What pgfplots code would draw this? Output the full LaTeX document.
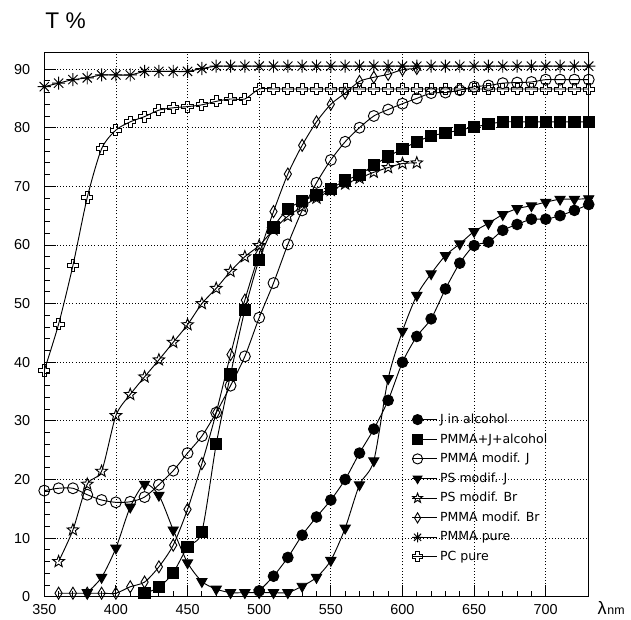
\documentclass[border=0pt]{standalone}
\usepackage{pgfplots}
\pgfplotsset{compat=1.18}
\usepackage{fontspec}
\setmainfont{Liberation Sans}
\newfontfamily\legfont{DejaVu Sans}
\usetikzlibrary{plotmarks}

\pgfdeclareplotmark{ostar}{%
  \pgfpathmoveto{\pgfqpointpolar{90}{\pgfplotmarksize}}%
  \pgfpathlineto{\pgfqpointpolar{126}{0.42\pgfplotmarksize}}%
  \pgfpathlineto{\pgfqpointpolar{162}{\pgfplotmarksize}}%
  \pgfpathlineto{\pgfqpointpolar{198}{0.42\pgfplotmarksize}}%
  \pgfpathlineto{\pgfqpointpolar{234}{\pgfplotmarksize}}%
  \pgfpathlineto{\pgfqpointpolar{270}{0.42\pgfplotmarksize}}%
  \pgfpathlineto{\pgfqpointpolar{306}{\pgfplotmarksize}}%
  \pgfpathlineto{\pgfqpointpolar{342}{0.42\pgfplotmarksize}}%
  \pgfpathlineto{\pgfqpointpolar{18}{\pgfplotmarksize}}%
  \pgfpathlineto{\pgfqpointpolar{54}{0.42\pgfplotmarksize}}%
  \pgfpathclose\pgfusepathqstroke}

\pgfdeclareplotmark{oplus}{%
  \pgfpathmoveto{\pgfqpoint{0.35\pgfplotmarksize}{\pgfplotmarksize}}%
  \pgfpathlineto{\pgfqpoint{0.35\pgfplotmarksize}{0.35\pgfplotmarksize}}%
  \pgfpathlineto{\pgfqpoint{\pgfplotmarksize}{0.35\pgfplotmarksize}}%
  \pgfpathlineto{\pgfqpoint{\pgfplotmarksize}{-0.35\pgfplotmarksize}}%
  \pgfpathlineto{\pgfqpoint{0.35\pgfplotmarksize}{-0.35\pgfplotmarksize}}%
  \pgfpathlineto{\pgfqpoint{0.35\pgfplotmarksize}{-\pgfplotmarksize}}%
  \pgfpathlineto{\pgfqpoint{-0.35\pgfplotmarksize}{-\pgfplotmarksize}}%
  \pgfpathlineto{\pgfqpoint{-0.35\pgfplotmarksize}{-0.35\pgfplotmarksize}}%
  \pgfpathlineto{\pgfqpoint{-\pgfplotmarksize}{-0.35\pgfplotmarksize}}%
  \pgfpathlineto{\pgfqpoint{-\pgfplotmarksize}{0.35\pgfplotmarksize}}%
  \pgfpathlineto{\pgfqpoint{-0.35\pgfplotmarksize}{0.35\pgfplotmarksize}}%
  \pgfpathlineto{\pgfqpoint{-0.35\pgfplotmarksize}{\pgfplotmarksize}}%
  \pgfpathclose\pgfusepathqstroke}

\pgfdeclareplotmark{ast8}{%
  \pgfpathmoveto{\pgfqpoint{-\pgfplotmarksize}{0pt}}\pgfpathlineto{\pgfqpoint{\pgfplotmarksize}{0pt}}%
  \pgfpathmoveto{\pgfqpoint{0pt}{-\pgfplotmarksize}}\pgfpathlineto{\pgfqpoint{0pt}{\pgfplotmarksize}}%
  \pgfpathmoveto{\pgfqpoint{-0.707\pgfplotmarksize}{-0.707\pgfplotmarksize}}\pgfpathlineto{\pgfqpoint{0.707\pgfplotmarksize}{0.707\pgfplotmarksize}}%
  \pgfpathmoveto{\pgfqpoint{-0.707\pgfplotmarksize}{0.707\pgfplotmarksize}}\pgfpathlineto{\pgfqpoint{0.707\pgfplotmarksize}{-0.707\pgfplotmarksize}}%
  \pgfusepathqstroke}

\begin{document}
\begin{tikzpicture}
\useasboundingbox (-33.2pt,-16.7pt) rectangle (440.0pt,447.5pt);
\begin{axis}[
  at={(0,0)}, anchor=south west,
  scale only axis, width=408.3pt, height=408pt,
  xmin=350, xmax=730, ymin=0, ymax=92.8,
  xtick={350,400,...,700}, minor x tick num=4,
  ytick={0,10,...,90}, minor y tick num=4,
  tick align=inside, tick pos=left,
  major tick length=9pt, minor tick length=4pt,
  tick style={black, line width=0.7pt},
  axis line style={line width=0.75pt},
  grid=major,
  major grid style={black, line width=0.6pt, dash pattern=on 0.75pt off 1.6pt},
  /pgf/number format/assume math mode=true,
  ticklabel style={font=\fontsize{10.8}{12}\selectfont},
  yticklabel style={xshift=-7pt},
  xticklabel style={yshift=-2pt},
  every axis y label/.style={at={(axis description cs:-0.0066,1.0436)}, anchor=base west},
  ylabel={\fontsize{17}{20}\selectfont T \%},
  every axis x label/.style={at={(axis description cs:1.016,-0.033)}, anchor=base west, inner sep=0pt},
  xlabel={\fontsize{13.5}{15}\selectfont λ\kern0.5pt{\fontsize{9.3}{11}\selectfont nm}},
  clip=false,
  every axis plot/.append style={black, line width=0.7pt, smooth, tension=0.45},
  legend image code/.code={\path (0pt,0pt) -- (18.5pt,0pt); \draw[#1, only marks, mark size=3.8pt] plot coordinates {(4pt,0pt)};},
  legend style={draw=none, fill=none, at={(axis cs:606.3,31.7)}, anchor=north west,
    font=\legfont\fontsize{9.4}{10}\selectfont, inner sep=0pt, row sep=2.1pt},
  legend cell align=left,
]
% J in alcohol
\addplot[mark=*, mark size=4pt, mark options={solid, fill=black}] coordinates {
(500,1.0)(510,3.5)(520,6.7)(530,10.5)(540,13.6)(550,16.5)(560,20.0)(570,24.5)(580,28.6)(590,33.5)(600,40.0)(610,44.4)(620,47.4)(630,52.5)(640,56.9)(650,59.9)(660,60.5)(670,62.5)(680,63.5)(690,64.4)(700,64.4)(710,65.0)(720,65.9)(730,66.9)};
\addlegendentry{J in alcohol}
% PMMA+J+alcohol
\addplot[mark=square*, mark size=4.2pt, mark options={solid, fill=black}] coordinates {
(420,0.6)(430,1.6)(440,4.1)(450,8.5)(460,11.1)(470,26.0)(480,37.9)(490,48.9)(500,57.5)(510,63.0)(520,66.1)(530,67.5)(540,68.5)(550,69.6)(560,71.0)(570,72.0)(580,73.6)(590,75.1)(600,76.4)(610,77.6)(620,78.6)(630,79.1)(640,79.6)(650,80.1)(660,80.6)(670,81.0)(680,81.0)(690,81.0)(700,81.0)(710,81.0)(720,81.0)(730,81.0)};
\addlegendentry{PMMA+J+alcohol}
% PMMA modif. J
\addplot[mark=o, mark size=4.1pt, mark options={solid}] coordinates {
(350,18.1)(360,18.5)(370,18.5)(380,17.4)(390,16.5)(400,16.1)(410,16.2)(420,17.0)(430,19.1)(440,21.5)(450,24.5)(460,27.4)(470,31.4)(480,36.0)(490,41.0)(500,47.6)(510,53.5)(520,60.1)(530,65.9)(540,70.6)(550,74.5)(560,77.6)(570,80.0)(580,82.0)(590,83.1)(600,84.1)(610,85.0)(620,85.9)(630,86.0)(640,86.4)(650,87.0)(660,87.2)(670,87.6)(680,87.7)(690,87.8)(700,88.2)(710,88.2)(720,88.2)(730,88.2)};
\addlegendentry{PMMA modif. J}
% PS modif. J
\addplot[mark=triangle*, mark size=4.4pt, mark options={solid, fill=black, rotate=180}] coordinates {
(380,0.7)(390,3.3)(400,8.3)(410,15.3)(420,19.2)(430,17.3)(440,11.4)(450,5.8)(460,2.6)(470,1.3)(480,0.7)(490,0.7)(500,0.7)(510,0.7)(520,0.7)(530,1.8)(540,3.3)(550,6.2)(560,11.7)(570,19.1)(580,23.2)(590,37.2)(600,45.3)(610,51.4)(620,55.1)(630,58.2)(640,60.2)(650,62.3)(660,63.7)(670,65.2)(680,66.2)(690,66.7)(700,67.3)(710,67.8)(720,67.8)(730,67.9)};
\addlegendentry{PS modif. J}
% PS modif. Br
\addplot[mark=ostar, mark size=4.6pt, mark options={solid}] coordinates {
(360,6.0)(370,11.4)(380,19.2)(390,21.4)(400,30.9)(410,34.5)(420,37.5)(430,40.4)(440,43.4)(450,46.4)(460,50.0)(470,52.6)(480,55.5)(490,58.0)(500,59.9)(510,62.6)(520,64.9)(530,66.5)(540,68.0)(550,69.3)(560,70.4)(570,71.4)(580,72.4)(590,73.2)(600,73.9)(610,74.0)};
\addlegendentry{PS modif. Br}
% PMMA modif. Br
\addplot[mark=diamond, mark size=4.5pt, mark options={solid, xscale=0.8}] coordinates {
(360,0.6)(370,0.6)(380,0.6)(390,0.6)(400,0.6)(410,1.7)(420,2.5)(430,5.1)(440,8.8)(450,14.9)(460,22.7)(470,31.4)(480,41.3)(490,50.6)(500,58.5)(510,65.7)(520,72.1)(530,77.0)(540,81.0)(550,84.0)(560,85.9)(570,87.9)(580,88.6)(590,89.1)(600,89.9)(610,90.1)};
\addlegendentry{PMMA modif. Br}
% PMMA pure
\addplot[mark=ast8, mark size=4.9pt, mark options={solid}] coordinates {
(350,87.0)(360,87.6)(370,88.2)(380,88.5)(390,89.0)(400,89.0)(410,89.0)(420,89.6)(430,89.6)(440,89.6)(450,89.6)(460,90.1)(470,90.5)(480,90.5)(490,90.5)(500,90.5)(510,90.5)(520,90.5)(530,90.5)(540,90.5)(550,90.5)(560,90.5)(570,90.5)(580,90.5)(590,90.5)(600,90.5)(610,90.5)(620,90.5)(630,90.5)(640,90.5)(650,90.5)(660,90.5)(670,90.5)(680,90.5)(690,90.5)(700,90.5)(710,90.5)(720,90.5)(730,90.5)};
\addlegendentry{PMMA pure}
% PC pure
\addplot[mark=oplus, mark size=4.2pt, mark options={solid}] coordinates {
(350,38.6)(360,46.5)(370,56.5)(380,68.1)(390,76.4)(400,79.6)(410,81.0)(420,81.9)(430,83.0)(440,83.4)(450,83.6)(460,83.9)(470,84.5)(480,84.9)(490,84.9)(500,86.6)(510,86.6)(520,86.6)(530,86.6)(540,86.6)(550,86.6)(560,86.6)(570,86.6)(580,86.6)(590,86.6)(600,86.6)(610,86.6)(620,86.6)(630,86.6)(640,86.6)(650,86.6)(660,86.6)(670,86.6)(680,86.6)(690,86.6)(700,86.6)(710,86.6)(720,86.6)(730,86.6)};
\addlegendentry{PC pure}
\end{axis}
\end{tikzpicture}
\end{document}
